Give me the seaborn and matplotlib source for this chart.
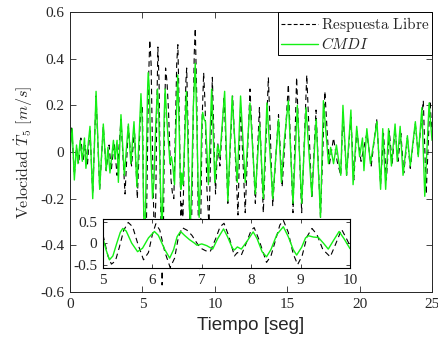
import numpy as np
import pandas as pd
import matplotlib
matplotlib.use("Agg")
import matplotlib.pyplot as plt
import seaborn as sns

# ---------------- data ----------------
t_libre = [0.00, 0.12, 0.30, 0.45, 0.60, 0.75, 0.90, 1.05, 1.20, 1.38, 1.57, 1.80, 2.05, 2.30, 2.50,
           2.70, 2.85, 3.05, 3.25, 3.52, 3.80, 4.03, 4.25, 4.45, 4.65, 4.90,
           5.00, 5.05, 5.10, 5.17, 5.25, 5.33, 5.42, 5.51, 5.60, 5.70, 5.82, 5.92, 6.00, 6.07, 6.15,
           6.25, 6.36, 6.45, 6.52, 6.60, 6.70, 6.80, 6.90, 6.98, 7.08, 7.17, 7.28, 7.37, 7.45, 7.55,
           7.66, 7.72, 7.80, 7.90, 8.00, 8.06, 8.15, 8.31, 8.40, 8.50, 8.58, 8.65, 8.75, 8.85, 8.94,
           9.03, 9.13, 9.23, 9.33, 9.45, 9.60, 9.70, 9.83, 9.93, 10.05,
           10.20, 10.35, 10.65, 10.90, 11.23, 11.60, 11.78, 12.10, 12.43, 12.80,
           13.08, 13.35, 13.70, 14.00, 14.40, 14.65, 15.08, 15.40, 15.65, 16.00, 16.35, 16.70, 16.99,
           17.30, 17.60, 17.90, 18.20, 18.45, 18.70, 18.85, 19.10, 19.40, 19.60, 19.80, 20.10, 20.50,
           20.80, 21.18, 21.45, 21.65, 21.85, 22.05, 22.25, 22.45, 22.65, 22.85, 23.05, 23.30, 23.50,
           23.85, 24.05, 24.40, 24.60, 24.86, 25.00]
v_libre = [0.00, 0.11, -0.10, 0.02, -0.05, 0.06, -0.04, 0.03, -0.06, 0.10, -0.18, 0.24, -0.16, 0.11, -0.08,
           0.03, -0.08, 0.04, -0.10, 0.14, -0.18, 0.11, -0.06, 0.10, -0.20, 0.22,
           0.19, -0.05, -0.30, -0.49, -0.42, -0.10, 0.30, 0.48, 0.38, 0.00, -0.39, -0.22, 0.20, 0.45, 0.30,
           -0.20, -0.57, -0.35, 0.10, 0.36, 0.30, 0.18, 0.00, -0.12, -0.18, -0.20, 0.10, 0.38, 0.46, 0.15,
           -0.30, -0.22, -0.28, 0.00, 0.30, 0.36, 0.10, -0.45, -0.30, 0.10, 0.42, 0.53, 0.25, -0.25, -0.50,
           -0.30, 0.15, 0.34, 0.20, -0.15, -0.32, -0.05, 0.32, 0.10, -0.18,
           0.04, -0.06, 0.24, -0.22, 0.24, -0.27, 0.20, -0.26, 0.27, -0.22,
           0.19, -0.26, 0.32, -0.23, 0.16, -0.15, 0.29, -0.26, 0.32, -0.26, 0.33, -0.20, 0.18,
           -0.28, 0.26, -0.06, 0.06, -0.04, -0.10, 0.17, -0.10, 0.15, -0.12, 0.09, -0.04, 0.08,
           -0.06, 0.14, -0.14, 0.08, -0.12, 0.09, -0.05, 0.10, -0.04, 0.08, -0.09, 0.06, -0.07,
           0.12, -0.01, 0.22, -0.18, 0.22, 0.08]

t_cmdi = [0.00, 0.15, 0.30, 0.45, 0.55, 0.70, 0.85, 1.00, 1.10, 1.25, 1.38, 1.57, 1.80, 2.05, 2.30,
          2.50, 2.62, 2.76, 3.00, 3.10, 3.25, 3.34, 3.52, 3.75, 4.03, 4.20, 4.42, 4.62, 4.90,
          5.00, 5.06, 5.13, 5.20, 5.28, 5.35, 5.40, 5.47, 5.58, 5.70, 5.80, 5.92, 6.04, 6.12, 6.25,
          6.35, 6.43, 6.50, 6.57, 6.65, 6.75, 6.85, 6.90, 7.00, 7.10, 7.22, 7.32, 7.44, 7.52, 7.62,
          7.66, 7.72, 7.80, 7.92, 8.04, 8.12, 8.22, 8.31, 8.40, 8.52, 8.65, 8.75, 8.85, 8.92, 9.02,
          9.10, 9.16, 9.26, 9.36, 9.46, 9.56, 9.66, 9.78, 9.88, 10.00,
          10.20, 10.35, 10.68, 10.90, 11.20,
          11.55, 11.78, 12.10, 12.43, 12.80, 13.10, 13.35, 13.60, 14.00, 14.40, 14.60, 14.80, 15.08,
          15.40, 15.70, 16.00, 16.30, 16.70, 17.00, 17.30, 17.50, 17.85, 18.00, 18.20, 18.40, 18.70,
          18.85, 19.10, 19.40, 19.55, 19.80, 20.00, 20.20, 20.30, 20.50, 20.75, 21.00, 21.20, 21.45,
          21.60, 21.80, 22.00, 22.20, 22.45, 22.60, 22.80, 23.00, 23.30, 23.50, 23.85, 24.05, 24.30,
          24.50, 24.80, 25.00]
v_cmdi = [0.00, 0.10, -0.12, 0.03, -0.05, 0.05, -0.04, 0.06, -0.07, 0.03, 0.11, -0.20, 0.26, -0.16, 0.12,
          -0.08, 0.02, -0.09, 0.05, -0.03, 0.05, -0.13, 0.16, -0.10, 0.12, -0.05, 0.13, -0.15, 0.25,
          0.11, -0.15, -0.39, -0.30, 0.00, 0.25, 0.34, 0.28, 0.00, -0.20, -0.12, 0.12, 0.27, 0.18, -0.15,
          -0.35, -0.15, 0.15, 0.27, 0.18, 0.08, 0.00, -0.05, -0.02, -0.06, -0.14, 0.10, 0.33, 0.15, -0.12,
          -0.16, -0.09, -0.14, 0.05, 0.26, 0.10, -0.20, -0.32, -0.15, 0.20, 0.38, 0.15, -0.15, -0.28, -0.10,
          0.12, 0.17, 0.14, 0.13, 0.00, -0.14, 0.05, 0.27, 0.10, -0.13,
          0.03, -0.02, 0.26, -0.21, 0.24,
          -0.13, 0.24, -0.13, 0.21, -0.18, 0.12, -0.20, 0.21, -0.20, 0.14, -0.13, 0.05, 0.22,
          -0.22, 0.20, -0.22, 0.19, -0.19, 0.14, -0.28, 0.22, -0.05, 0.02, -0.05, 0.03, -0.10,
          0.20, -0.10, 0.18, -0.14, 0.11, -0.02, 0.06, -0.08, 0.10, -0.05, 0.05, 0.13, -0.16,
          0.10, -0.16, 0.10, -0.06, 0.12, -0.04, 0.11, -0.10, 0.07, -0.06, 0.13, -0.02, 0.19,
          -0.19, 0.21, 0.05]

x_ticks = [0, 5, 10, 15, 20, 25]
y_ticks = [-0.6, -0.4, -0.2, 0, 0.2, 0.4, 0.6]
x_tick_labels = ["0", "5", "10", "15", "20", "25"]
y_tick_labels = ["-0.6", "-0.4", "-0.2", "0", "0.2", "0.4", "0.6"]
inset_x_ticks = [5, 6, 7, 8, 9, 10]
inset_y_ticks = [-0.5, 0, 0.5]
inset_y_tick_labels = ["-0.5", "0", "0.5"]

label_libre = r"$\mathrm{Respuesta\ Libre}$"
label_cmdi = r"$CMDI$"
x_label = "Tiempo [seg]"
y_label = r"$\mathrm{Velocidad}\ \dot{T}_5\ [m/s]$"

# ---------------- style ----------------
sns.set_style("ticks")
plt.rcParams["font.family"] = ["Liberation Serif", "DejaVu Serif"]
plt.rcParams["mathtext.fontset"] = "cm"
plt.rcParams["axes.unicode_minus"] = False

GREEN = "#14f014"
AXC = "#262626"

df_l = pd.DataFrame({"t": t_libre, "v": v_libre})
df_c = pd.DataFrame({"t": t_cmdi, "v": v_cmdi})

fig = plt.figure(figsize=(4.39, 3.44), dpi=100)
ax = fig.add_axes([70 / 439, 52 / 344, 362 / 439, 280 / 344])


def draw(a, legend):
    sns.lineplot(data=df_l, x="t", y="v", ax=a, color="black", lw=0.8, sort=False,
                 estimator=None, label=label_libre if legend else None)
    a.lines[-1].set_dashes([5, 3.5])
    sns.lineplot(data=df_c, x="t", y="v", ax=a, color=GREEN, lw=1.0, sort=False,
                 estimator=None, label=label_cmdi if legend else None)


draw(ax, True)
ax.set_xlim(0, 25)
ax.set_ylim(-0.6, 0.6)
ax.set_xticks(x_ticks)
ax.set_xticklabels(x_tick_labels)
ax.set_yticks(y_ticks)
ax.set_yticklabels(y_tick_labels)
ax.tick_params(direction="in", length=4, width=0.6, top=True, right=True, labelsize=11,
               color=AXC, labelcolor=AXC, pad=4)
for s in ax.spines.values():
    s.set_color(AXC)
    s.set_linewidth(0.7)
ax.set_xlabel(x_label, fontsize=13.5, family=["Liberation Sans", "DejaVu Sans"], color=AXC, labelpad=5)
ax.set_ylabel(y_label, fontsize=11.5, color=AXC, labelpad=4)

leg = ax.legend(loc="upper right", bbox_to_anchor=(1.0, 1.0), borderaxespad=0, fancybox=False,
                framealpha=1, edgecolor="black", fontsize=11, handlelength=2.4, handletextpad=0.2,
                borderpad=0.2, labelspacing=0.15)
leg.get_frame().set_linewidth(0.7)
leg.get_lines()[0].set_dashes([3.5, 2])

# inset
axi = fig.add_axes([103 / 439, (344 - 268) / 344, 247 / 439, 49 / 344])
axi.set_facecolor("white")
draw(axi, False)
axi.set_xlim(5, 10)
axi.set_ylim(-0.58, 0.56)
axi.set_xticks(inset_x_ticks)
axi.set_yticks(inset_y_ticks)
axi.set_yticklabels(inset_y_tick_labels)
axi.set_xlabel("")
axi.set_ylabel("")
axi.tick_params(direction="in", length=3, width=0.6, top=True, right=True, labelsize=11,
                color=AXC, labelcolor=AXC, pad=4)
for s in axi.spines.values():
    s.set_color("black")
    s.set_linewidth(0.8)

fig.savefig("out.png", dpi=100)
